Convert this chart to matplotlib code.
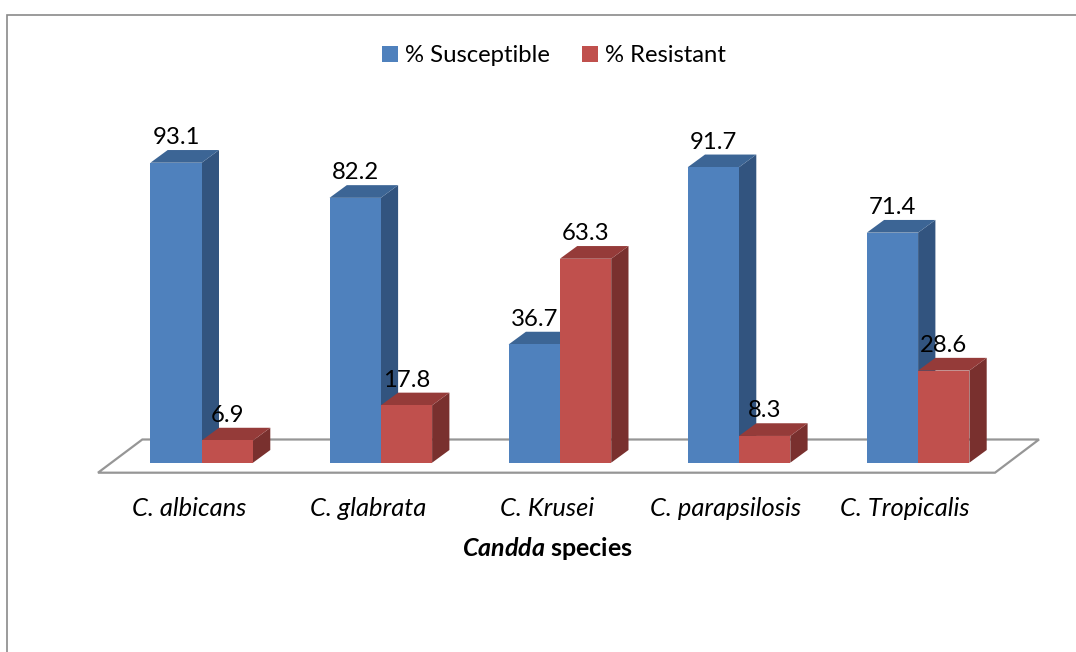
#!/usr/bin/python3.12
# Susceptible vs resistant Candida species, drawn as fake-3D Excel style columns
import numpy as np
import matplotlib.pyplot as plt
from matplotlib.patches import Polygon, Rectangle

species = ['C. albicans', 'C. glabrata', 'C. Krusei', 'C. parapsilosis', 'C. Tropicalis']
susceptible = [93.1, 82.2, 36.7, 91.7, 71.4]
resistant = [6.9, 17.8, 63.3, 8.3, 28.6]

plt.rcParams['font.family'] = ['Lato', 'DejaVu Sans']
plt.rcParams['mathtext.fontset'] = 'custom'
plt.rcParams['mathtext.bf'] = 'Lato:bold'
plt.rcParams['mathtext.bfit'] = 'Lato:italic:bold'

W, H = 1076, 652
X0, Y0 = 201.7, 462.7   # pixel position of category 0 / value 0
PX_X = 179.1            # pixels per category
PX_Y = 3.222            # pixels per percent

fig = plt.figure(figsize=(W / 100, H / 100), dpi=100)
ax = fig.add_axes([0, 0, 1, 1])
ax.set_xlim(-X0 / PX_X, (W - X0) / PX_X)
ax.set_ylim(-(H - Y0) / PX_Y, Y0 / PX_Y)
ax.axis('off')

# sizes in data units
bar_w = 51.3 / PX_X
dx = 17.3 / PX_X
dy = 12.7 / PX_Y
fs = 17.2


def px_x(n):
    return n / PX_X


def px_y(n):
    return n / PX_Y


# chart border, runs off the right and bottom of the picture
ax.add_patch(Rectangle((px_x(6.5 - X0), px_y(-300)), px_x(1200), px_y(Y0 - 14.5 + 300),
                       fill=False, ec='#8a8a8a', lw=1.2, clip_on=True))

# floor of the 3D chart
floor = [(px_x(98 - X0), px_y(Y0 - 472.7)), (px_x(995 - X0), px_y(Y0 - 472.7)),
         (px_x(1039 - X0), px_y(Y0 - 439.5)), (px_x(142.3 - X0), px_y(Y0 - 439.5))]
ax.add_patch(Polygon(floor, closed=True, fc='white', ec='#969696', lw=1.6, zorder=1))


def column(x, v, front, top, side, z):
    ax.add_patch(Polygon([(x + bar_w, 0), (x + bar_w + dx, dy), (x + bar_w + dx, v + dy), (x + bar_w, v)],
                         fc=side, ec='none', zorder=z))
    ax.add_patch(Polygon([(x, v), (x + bar_w, v), (x + bar_w + dx, v + dy), (x + dx, v + dy)],
                         fc=top, ec='none', zorder=z))
    return ax.bar(x, v, bar_w, align='edge', color=front, edgecolor='none', zorder=z + 0.1)


for i in range(len(species)):
    b1 = column(i - bar_w, susceptible[i], '#4F81BD', '#3C6595', '#32547F', 2 + i)
    b2 = column(i, resistant[i], '#C0504D', '#953B39', '#79302E', 2.5 + i)
    ax.text(i - bar_w / 2, susceptible[i] + px_y(25), f'{susceptible[i]:.1f}',
            ha='center', va='center', fontsize=fs, color='black', zorder=20)
    ax.text(i + bar_w / 2, resistant[i] + px_y(25), f'{resistant[i]:.1f}',
            ha='center', va='center', fontsize=fs, color='black', zorder=20)
    ax.text(i - px_x(13), px_y(Y0 - 508), species[i], ha='center', va='center',
            fontsize=18.4, style='italic', color='black')

ax.text(2 - px_x(13), px_y(Y0 - 549), r'$\bfit{Candda}$ species', ha='center', va='center',
        fontsize=18, fontweight='bold', color='black')

ax.legend([b1, b2], ['% Susceptible', '% Resistant'], ncol=2, frameon=False, fontsize=fs,
          loc='center', bbox_to_anchor=(554 / W, 1 - 56 / H),
          handlelength=0.65, handleheight=0.65, handletextpad=0.3, columnspacing=1.35,
          borderpad=0, borderaxespad=0)

plt.savefig('out.png', dpi=100)
